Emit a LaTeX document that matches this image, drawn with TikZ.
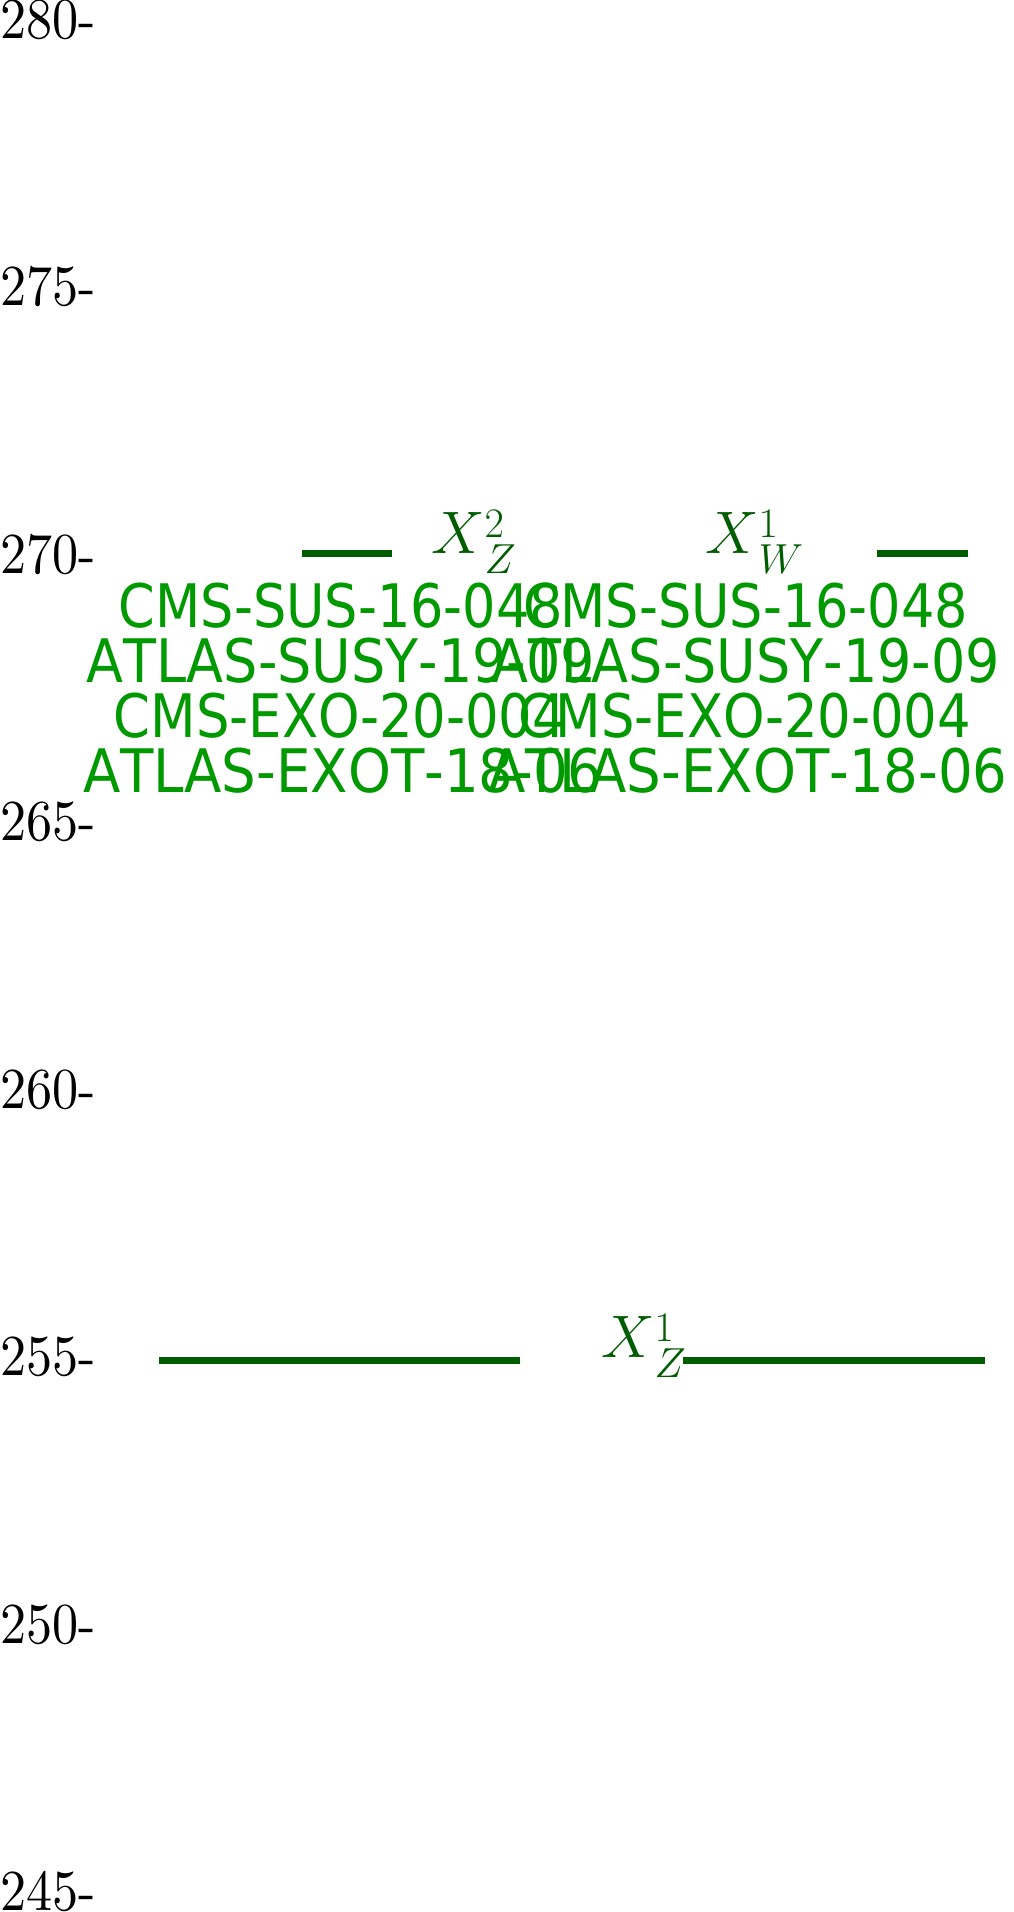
\RequirePackage{fix-cm}
\documentclass[tikz,border=0pt]{standalone}
\usepackage{fontspec}
\newfontfamily\dvs{DejaVu Sans}[Kerning=Off]
\newfontfamily\cmten{lmroman10-regular}[Extension=.otf]
\DeclareMathSizes{60}{60}{42}{30}
\definecolor{lvlgreen}{RGB}{0,92,0}
\definecolor{refgreen}{RGB}{0,153,0}
\newcommand{\lvlname}[3]{$#1$\rlap{\raisebox{16pt}{$\scriptstyle #3$}}\raisebox{-20pt}{$\scriptstyle #2$}}
\begin{document}
\begin{tikzpicture}[x=1pt,y=-1pt,
  ticklab/.style={anchor=base west,inner sep=0pt,xscale=0.9,font=\cmten\fontsize{58}{58}\selectfont},
  lvl/.style={line width=7pt,draw=lvlgreen},
  lvllab/.style={anchor=base west,inner sep=0pt,text=lvlgreen,font=\fontsize{60}{60}\selectfont},
  reflab/.style={anchor=base,inner sep=0pt,xscale=#1,text=refgreen,font=\dvs\fontsize{60}{60}\selectfont}]
\useasboundingbox (0,0) rectangle (1013,1912);
% axis tick labels
\node[ticklab] (t280) at (0,38) {280-};
\node[ticklab] (t275) at (0,305.5) {275-};
\node[ticklab] (t270) at (0,573) {270-};
\node[ticklab] (t265) at (0,840.5) {265-};
\node[ticklab] (t260) at (0,1108) {260-};
\node[ticklab] (t255) at (0,1375.5) {255-};
\node[ticklab] (t250) at (0,1643) {250-};
\node[ticklab] (t245) at (0,1910.5) {245-};
% levels
\coordinate (a1) at (302,553); \coordinate (a2) at (392,553);
\coordinate (b1) at (877,553); \coordinate (b2) at (968,553);
\coordinate (c1) at (159,1360); \coordinate (c2) at (520,1360);
\coordinate (d1) at (683,1360); \coordinate (d2) at (985,1360);
\draw[lvl] (a1) -- (a2);
\draw[lvl] (b1) -- (b2);
\draw[lvl] (c1) -- (c2);
\draw[lvl] (d1) -- (d2);
% level labels
\node[lvllab] (xz2) at (431,553) {\lvlname{X}{Z}{2}};
\node[lvllab] (xw1) at (705,553) {\lvlname{X}{W}{1}};
\node[lvllab] (xz1) at (601,1357) {\lvlname{X}{Z}{1}};
% reference labels, left column
\node[reflab=0.875] (l1) at (341,627) {CMS-SUS-16-048};
\node[reflab=0.90] (l2) at (341,682) {ATLAS-SUSY-19-09};
\node[reflab=0.88] (l3) at (340,737) {CMS-EXO-20-004};
\node[reflab=0.91] (l4) at (343,792) {ATLAS-EXOT-18-06};
% reference labels, right column
\node[reflab=0.875] (r1) at (746,627) {CMS-SUS-16-048};
\node[reflab=0.90] (r2) at (746,682) {ATLAS-SUSY-19-09};
\node[reflab=0.88] (r3) at (745,737) {CMS-EXO-20-004};
\node[reflab=0.91] (r4) at (748,792) {ATLAS-EXOT-18-06};
\end{tikzpicture}
\end{document}
